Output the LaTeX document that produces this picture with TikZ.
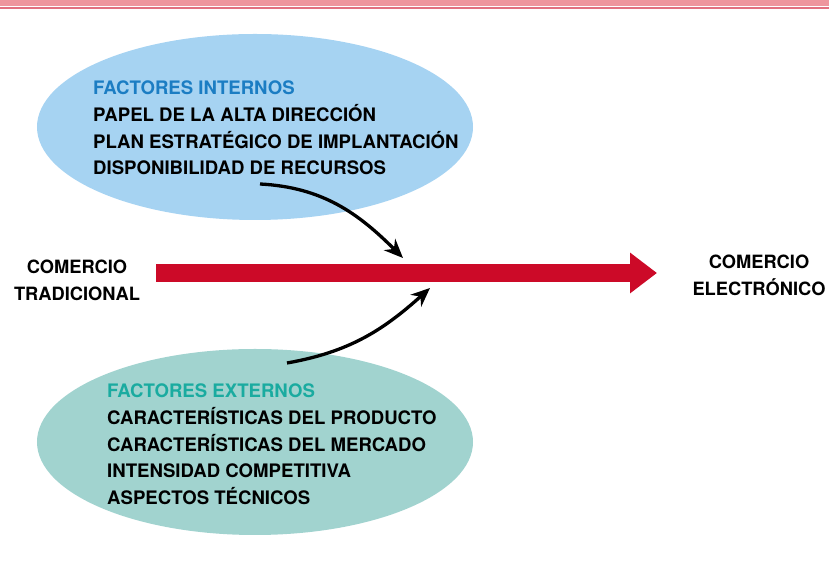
\documentclass[tikz,border=0pt]{standalone}
\usepackage{fontspec}
\setmainfont{TeX Gyre Heros}
\usepackage{tikz}
\usetikzlibrary{shapes.geometric,arrows.meta}
\usepackage{xcolor}
\definecolor{bandpink}{RGB}{238,149,157}
\definecolor{bandline}{RGB}{226,112,128}
\definecolor{intblue}{RGB}{166,211,242}
\definecolor{extgreen}{RGB}{161,211,207}
\definecolor{inttitle}{RGB}{27,125,195}
\definecolor{exttitle}{RGB}{26,171,160}
\definecolor{flowred}{RGB}{204,10,40}

\begin{document}
\begin{tikzpicture}[x=1bp,y=1bp,
    cloud/.style={ellipse, minimum width=436bp, minimum height=186bp, inner sep=0pt},
    factors/.style={font=\bfseries\fontsize{18.6bp}{26.6bp}\selectfont, align=left,
        anchor=north west, inner sep=0pt},
    ends/.style={font=\bfseries\fontsize{18.3bp}{27bp}\selectfont, align=center,
        anchor=north, inner sep=0pt},
    push/.style={-{Stealth[length=19bp,width=16bp]}, line width=3.3bp}]
    \useasboundingbox (0,0) rectangle (829,563);
    % franja superior
    \fill[bandpink] (0,557) rectangle (829,563);
    \fill[bandline] (0,553.5) rectangle (829,555.5);

    \node[cloud, fill=intblue] (internos) at (255,436) {};
    \node[cloud, fill=extgreen] (externos) at (255,121) {};

    \node[factors] (intlist) at (93,482) {\textcolor{inttitle}{FACTORES INTERNOS}\\
        PAPEL DE LA ALTA DIRECCIÓN\\
        PLAN ESTRATÉGICO DE IMPLANTACIÓN\\
        DISPONIBILIDAD DE RECURSOS};
    \node[factors] (extlist) at (107,179) {\textcolor{exttitle}{FACTORES EXTERNOS}\\
        CARACTERÍSTICAS DEL PRODUCTO\\
        CARACTERÍSTICAS DEL MERCADO\\
        INTENSIDAD COMPETITIVA\\
        ASPECTOS TÉCNICOS};

    \node[ends] (trad) at (77,303) {COMERCIO\\TRADICIONAL};
    \node[ends] (elec) at (759,308) {COMERCIO\\ELECTRÓNICO};

    \coordinate (flowstart) at (156,290);
    \coordinate (flowend) at (657,290);
    \draw[flowred, line width=18bp, -{Triangle[length=27bp,width=39bp]}] (flowstart) -- (flowend);

    \coordinate (intout) at (260,379);
    \coordinate (intin) at (403,305);
    \coordinate (extout) at (287,200);
    \coordinate (extin) at (430,275);
    \draw[push] (intout) to[out=-3, in=135] (intin);
    \draw[push] (extout) to[out=10, in=222] (extin);
    %\draw (trad) -- (elec);
\end{tikzpicture}
\end{document}
